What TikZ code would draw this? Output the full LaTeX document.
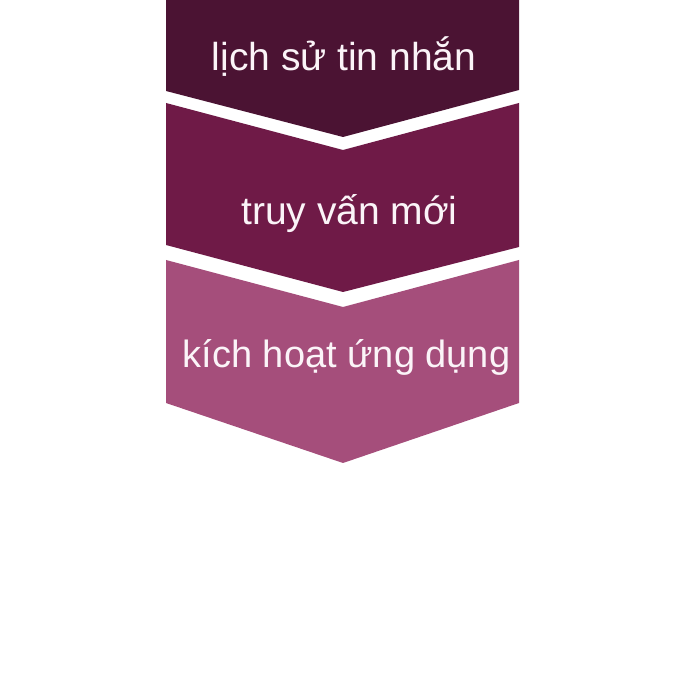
\documentclass[tikz,border=0pt]{standalone}
\usepackage{fontspec}
\setmainfont{Liberation Sans}
\definecolor{cA}{HTML}{4B1333}
\definecolor{cB}{HTML}{6F1A47}
\definecolor{cC}{HTML}{A54E7B}
\definecolor{txt}{HTML}{FBF4F8}
\begin{document}
\begin{tikzpicture}[x=1pt,y=1pt,
  lbl/.style={anchor=base,text=txt,inner sep=0pt,font=\fontsize{39}{44}\selectfont}]
\useasboundingbox (0,0) rectangle (700,700);
\fill[white] (0,0) rectangle (700,700);
\fill[cA] (166,700) -- (519,700) -- (519,610) -- (343,563) -- (166,609) -- cycle;
\fill[cB] (166,597) -- (343,550) -- (519,597) -- (519,453) -- (343,408) -- (166,455) -- cycle;
\fill[cC] (166,440) -- (343,393) -- (519,440) -- (519,297) -- (343,237) -- (166,297) -- cycle;
\node[lbl] (t1) at (344,629) {lịch sử tin nhắn};
\node[lbl] (t2) at (349.5,475) {truy vấn mới};
\node[lbl,font=\fontsize{38}{43}\selectfont] (t3) at (346.5,332) {kích hoạt ứng dụng};
\end{tikzpicture}
\end{document}
